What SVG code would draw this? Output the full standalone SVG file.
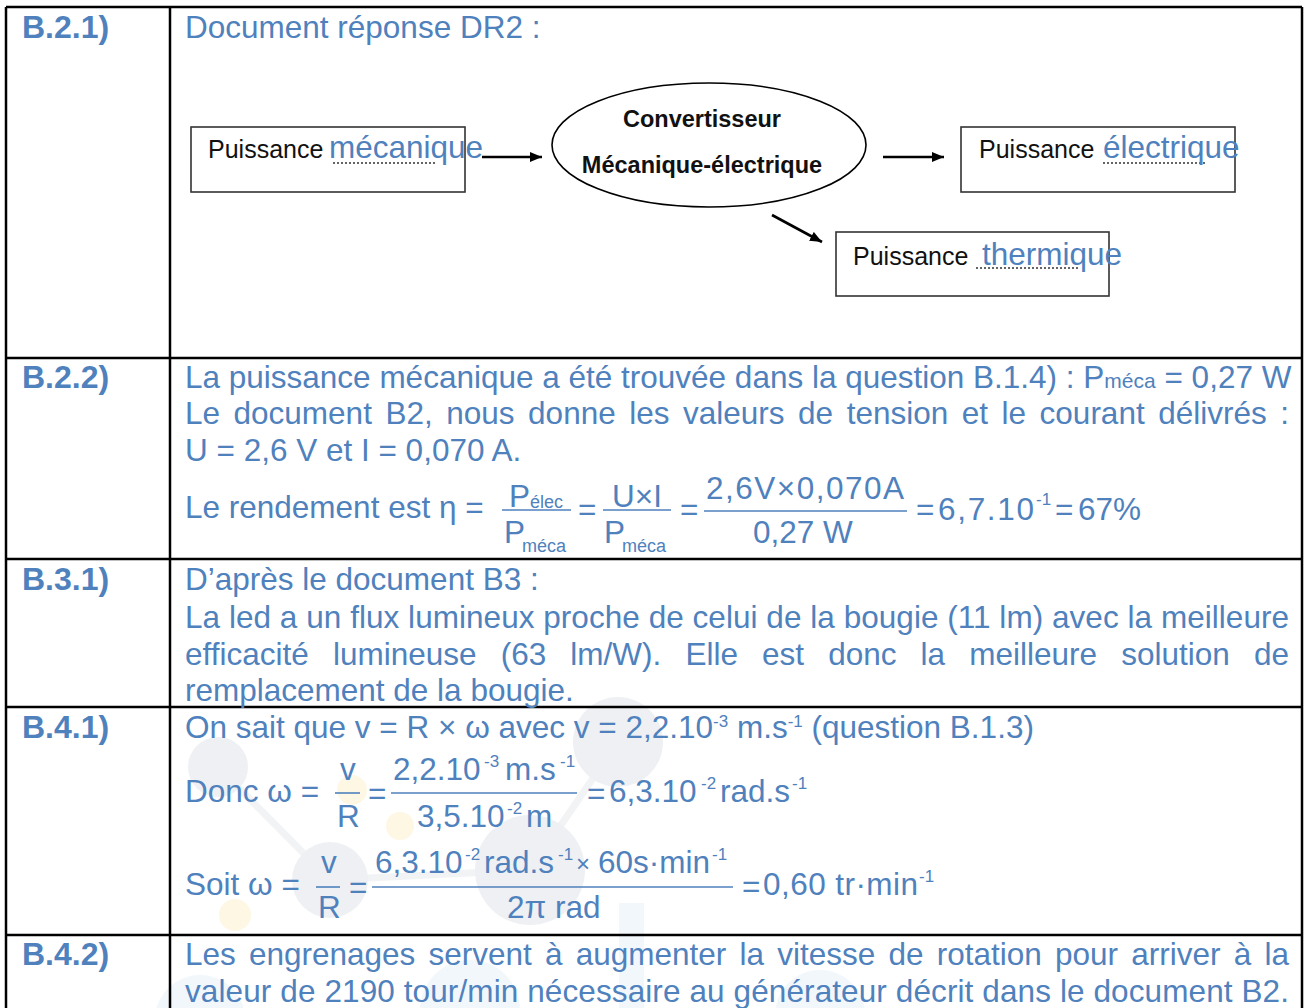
<svg xmlns="http://www.w3.org/2000/svg" width="1306" height="1008" viewBox="0 0 1306 1008">
<style>
text{font-family:"Liberation Sans",Arial,sans-serif}
.b{fill:#4F81BD;font-size:31.5px}
.lbl{fill:#4F81BD;font-size:32px;font-weight:bold}
.blk{fill:#111;font-size:25px}
.bold{fill:#111;font-size:23.5px;font-weight:bold}
.sub{font-size:18px}
.sup{fill:#4F81BD;font-size:17px}
.grid{stroke:#000;stroke-width:2.5;fill:none}
.box{fill:#fff;stroke:#333;stroke-width:1.6}
.dot{stroke:#333;stroke-width:1.5;stroke-dasharray:2 2}
.bar{stroke:#4F81BD;stroke-width:1.6}
.conn{stroke:#000;stroke-width:2.6;fill:none}
.wg{fill:#b4c0cc}
.wy{fill:#f7dc8a}
.wb{fill:#c6dcef}
</style>
<defs>
<marker id="ah" viewBox="0 0 12 10" refX="12" refY="5" markerWidth="12" markerHeight="10" markerUnits="userSpaceOnUse" orient="auto">
<path d="M0,0 L12,5 L0,10 z" fill="#000"/>
</marker>
</defs>
<rect width="1306" height="1008" fill="#fff"/>
<g id="watermark" opacity="0.22">
<path d="M218,767 L330,880 L530,870 L618,742" fill="none" stroke="#c4ccd4" stroke-width="7"/>
<circle class="wg" cx="218" cy="767" r="30"/>
<circle class="wy" cx="352" cy="790" r="15"/>
<circle class="wy" cx="400" cy="826" r="14"/>
<circle class="wg" cx="530" cy="870" r="55"/>
<circle class="wg" cx="618" cy="742" r="45"/>
<circle class="wg" cx="330" cy="880" r="38"/>
<circle class="wy" cx="235" cy="915" r="16"/>
<rect class="wb" x="619" y="903" width="25" height="105"/>
<circle class="wb" cx="200" cy="1020" r="45"/>
<circle class="wb" cx="470" cy="1010" r="50"/>
<circle class="wb" cx="820" cy="1015" r="45"/>
</g>
<g id="table">
<line class="grid" x1="6" y1="7" x2="1302" y2="7"/>
<line class="grid" x1="6" y1="7" x2="6" y2="1008"/>
<line class="grid" x1="1302" y1="7" x2="1302" y2="1008"/>
<line class="grid" x1="170" y1="7" x2="170" y2="1008"/>
<line class="grid" x1="6" y1="358" x2="1302" y2="358"/>
<line class="grid" x1="6" y1="559" x2="1302" y2="559"/>
<line class="grid" x1="6" y1="707" x2="1302" y2="707"/>
<line class="grid" x1="6" y1="935" x2="1302" y2="935"/>
</g>
<g id="labels">
<text class="lbl" x="22" y="38">B.2.1)</text>
<text class="lbl" x="22" y="388">B.2.2)</text>
<text class="lbl" x="22" y="590">B.3.1)</text>
<text class="lbl" x="22" y="738">B.4.1)</text>
<text class="lbl" x="22" y="965">B.4.2)</text>
</g>
<text class="b" x="185" y="38">Document réponse DR2 :</text>
<g id="connectors">
<line class="conn" x1="482" y1="157" x2="542" y2="157" marker-end="url(#ah)"/>
<line class="conn" x1="883" y1="157" x2="944" y2="157" marker-end="url(#ah)"/>
<line class="conn" x1="772" y1="215" x2="822" y2="242" marker-end="url(#ah)"/>
</g>
<g id="node-meca">
<rect class="box" x="191" y="127" width="274" height="65"/>
<text class="blk" x="208" y="158">Puissance</text>
<line class="dot" x1="333" y1="163" x2="435" y2="163"/>
<text class="b" x="329" y="158">mécanique</text>
</g>
<g id="node-convertisseur">
<ellipse cx="709" cy="145" rx="157" ry="62" fill="#fff" stroke="#000" stroke-width="1.6"/>
<text class="bold" x="702" y="127" text-anchor="middle">Convertisseur</text>
<text class="bold" x="702" y="173" text-anchor="middle">Mécanique-électrique</text>
</g>
<g id="node-elec">
<rect class="box" x="961" y="127" width="274" height="65"/>
<text class="blk" x="979" y="158">Puissance</text>
<line class="dot" x1="1103" y1="163" x2="1205" y2="163"/>
<text class="b" x="1103" y="158">électrique</text>
</g>
<g id="node-therm">
<rect class="box" x="836" y="232" width="273" height="64"/>
<text class="blk" x="853" y="265">Puissance</text>
<line class="dot" x1="976" y1="268" x2="1080" y2="268"/>
<text class="b" x="982" y="265">thermique</text>
</g>
<g id="row-b22">
<text class="b" x="185" y="388">La puissance mécanique a été trouvée dans la question B.1.4) : P<tspan font-size="21px">méca</tspan> = 0,27 W</text>
<text class="b" x="185" y="424" textLength="1104" lengthAdjust="spacing" style="word-spacing:4.8px">Le document B2, nous donne les valeurs de tension et le courant délivrés :</text>
<text class="b" x="185" y="461">U = 2,6 V et I = 0,070 A.</text>
<text class="b" x="185" y="518">Le rendement est η =</text>
<text class="b" x="509" y="507">P<tspan class="sub" dy="1">élec</tspan></text>
<line class="bar" x1="502" y1="510" x2="571" y2="510"/>
<text class="b" x="504" y="543">P<tspan class="sub" x="522" dy="9">méca</tspan></text>
<text class="b" x="578" y="520">=</text>
<text class="b" x="612" y="507">U×I</text>
<line class="bar" x1="603" y1="510" x2="671" y2="510"/>
<text class="b" x="604" y="543">P<tspan class="sub" x="622" dy="9">méca</tspan></text>
<text class="b" x="680" y="520">=</text>
<text class="b" x="706" y="499" textLength="198" lengthAdjust="spacing">2,6V×0,070A</text>
<line class="bar" x1="704" y1="511" x2="907" y2="511"/>
<text class="b" x="753" y="543">0,27 W</text>
<text class="b" x="916" y="520">=</text>
<text class="b" x="938" y="520" textLength="96" lengthAdjust="spacing">6,7.10</text>
<text class="sup" x="1036" y="505" font-size="16px">-1</text>
<text class="b" x="1055" y="520">=</text>
<text class="b" x="1078" y="520">67%</text>
</g>
<g id="row-b31">
<text class="b" x="185" y="590">D’après le document B3 :</text>
<text class="b" x="185" y="628" textLength="1104" lengthAdjust="spacing">La led a un flux lumineux proche de celui de la bougie (11 lm) avec la meilleure</text>
<text class="b" x="185" y="665" textLength="1104" lengthAdjust="spacing" style="word-spacing:15.3px">efficacité lumineuse (63 lm/W). Elle est donc la meilleure solution de</text>
<text class="b" x="185" y="701">remplacement de la bougie.</text>
</g>
<g id="row-b41">
<text class="b" x="185" y="738">On sait que v = R × ω avec v = 2,2.10<tspan class="sup" dy="-11" font-size="20px">-3</tspan><tspan dy="11"> m.s</tspan><tspan class="sup" dy="-11" font-size="20px">-1</tspan><tspan dy="11"> (question B.1.3)</tspan></text>
<text class="b" x="185" y="802">Donc ω =</text>
<text class="b" x="340" y="780">v</text>
<line class="bar" x1="335" y1="793" x2="360" y2="793"/>
<text class="b" x="337" y="827">R</text>
<text class="b" x="368" y="804">=</text>
<text class="b" x="393" y="780">2,2.10<tspan class="sup" x="484" y="767">-3</tspan><tspan x="505" y="780">m.s</tspan><tspan class="sup" x="560" y="767">-1</tspan></text>
<line class="bar" x1="391" y1="793" x2="577" y2="793"/>
<text class="b" x="417" y="827">3,5.10<tspan class="sup" x="507" y="814">-2</tspan><tspan x="526" y="827">m</tspan></text>
<text class="b" x="587" y="804">=</text>
<text class="b" x="609" y="802">6,3.10<tspan class="sup" x="701" y="789">-2</tspan><tspan x="720" y="802">rad.s</tspan><tspan class="sup" x="792" y="789">-1</tspan></text>
<text class="b" x="185" y="895">Soit ω =</text>
<text class="b" x="321" y="873">v</text>
<line class="bar" x1="316" y1="887" x2="340" y2="887"/>
<text class="b" x="318" y="918">R</text>
<text class="b" x="349" y="898">=</text>
<text class="b" x="375" y="873">6,3.10<tspan class="sup" x="465" y="860">-2</tspan><tspan x="484" y="873">rad.s</tspan><tspan class="sup" x="558" y="860">-1</tspan><tspan x="576" y="872" font-size="24px">×</tspan><tspan x="598" y="873">60s·min</tspan><tspan class="sup" x="712" y="860">-1</tspan></text>
<line class="bar" x1="372" y1="887" x2="733" y2="887"/>
<text class="b" x="507" y="918">2π rad</text>
<text class="b" x="742" y="897">=</text>
<text class="b" x="763" y="895" textLength="155" lengthAdjust="spacing">0,60 tr·min</text>
<text class="sup" x="919" y="882">-1</text>
</g>
<g id="row-b42">
<text class="b" x="185" y="965" textLength="1104" lengthAdjust="spacing" style="word-spacing:4.5px">Les engrenages servent à augmenter la vitesse de rotation pour arriver à la</text>
<text class="b" x="185" y="1002" textLength="1104" lengthAdjust="spacing">valeur de 2190 tour/min nécessaire au générateur décrit dans le document B2.</text>
</g>
</svg>
